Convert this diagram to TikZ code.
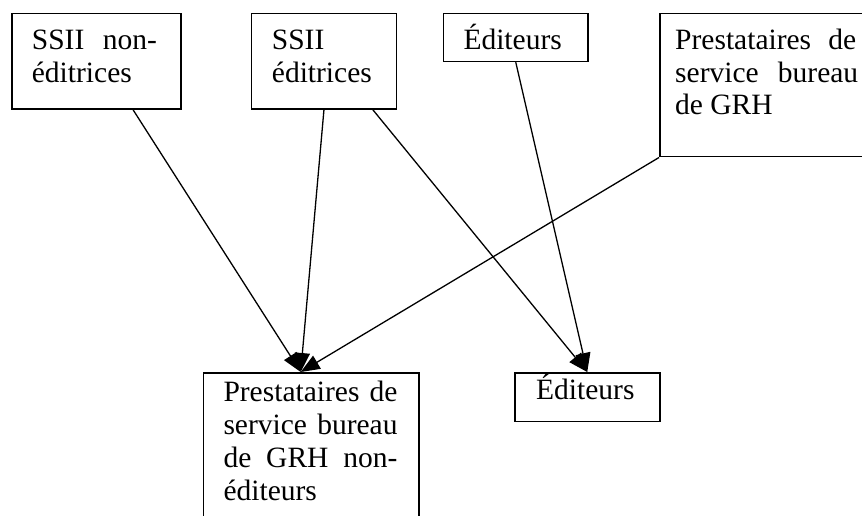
\documentclass[tikz,border=0pt]{standalone}
\usepackage{fontspec}
\setmainfont{Liberation Serif}
\usetikzlibrary{arrows.meta,calc}
\tikzset{
  boxnode/.style={draw, line width=1.5pt, inner sep=0pt, anchor=north west},
  txt/.style={anchor=base west, inner sep=0pt, font={\fontsize{29.5}{32.8}\selectfont}},
  conn/.style={line width=1.3pt, -{Triangle[length=19pt,width=15pt]}}
}
\newcommand{\jline}[2]{\makebox[#1][s]{#2}}
\begin{document}
\begin{tikzpicture}[x=1pt,y=-1pt]
\clip (0,0) rectangle (862,516);
\fill[white] (0,0) rectangle (862,516);
% boxes
\node[boxnode, minimum width=169pt, minimum height=95.6pt] (b1) at (11,12.7) {};
\node[boxnode, minimum width=145pt, minimum height=95.6pt] (b2) at (250.7,12.7) {};
\node[boxnode, minimum width=144.6pt, minimum height=48pt] (b3) at (442.7,12.7) {};
\node[boxnode, minimum width=241pt, minimum height=143.3pt] (b4) at (659,12.7) {};
\node[boxnode, minimum width=215.3pt, minimum height=188pt] (b5) at (202.7,372) {};
\node[boxnode, minimum width=145pt, minimum height=48.7pt] (b6) at (514,372) {};
% texts
\node[txt] (t1) at (31.7,50) {\parbox[t]{200pt}{\jline{125pt}{SSII non-}\\éditrices}};
\node[txt] (t2) at (271.7,50) {\parbox[t]{200pt}{SSII\\éditrices}};
\node[txt] (t3) at (463.3,50) {Éditeurs};
\node[txt] (t4) at (675,49.3) {\parbox[t]{220pt}{\jline{181pt}{Prestataires de}\\\jline{183pt}{service bureau}\\de GRH}};
\node[txt] (t5) at (223.3,401.7) {\parbox[t]{220pt}{\jline{174pt}{Prestataires de}\\\jline{174pt}{service bureau}\\\jline{174pt}{de GRH non-}\\éditeurs}};
\node[txt] (t6) at (536,399.3) {Éditeurs};
% connectors
\draw[conn] ($(b1.south west)!0.716!(b1.south east)$) -- ($(b5.north west)!0.452!(b5.north east)$);
\draw[conn] (b2.south) -- ($(b5.north west)!0.452!(b5.north east)$);
\draw[conn] (b4.south west) -- ($(b5.north west)!0.452!(b5.north east)$);
\draw[conn] ($(b2.south west)!0.834!(b2.south east)$) -- (b6.north);
\draw[conn] (b3.south) -- (b6.north);
\end{tikzpicture}
\end{document}
